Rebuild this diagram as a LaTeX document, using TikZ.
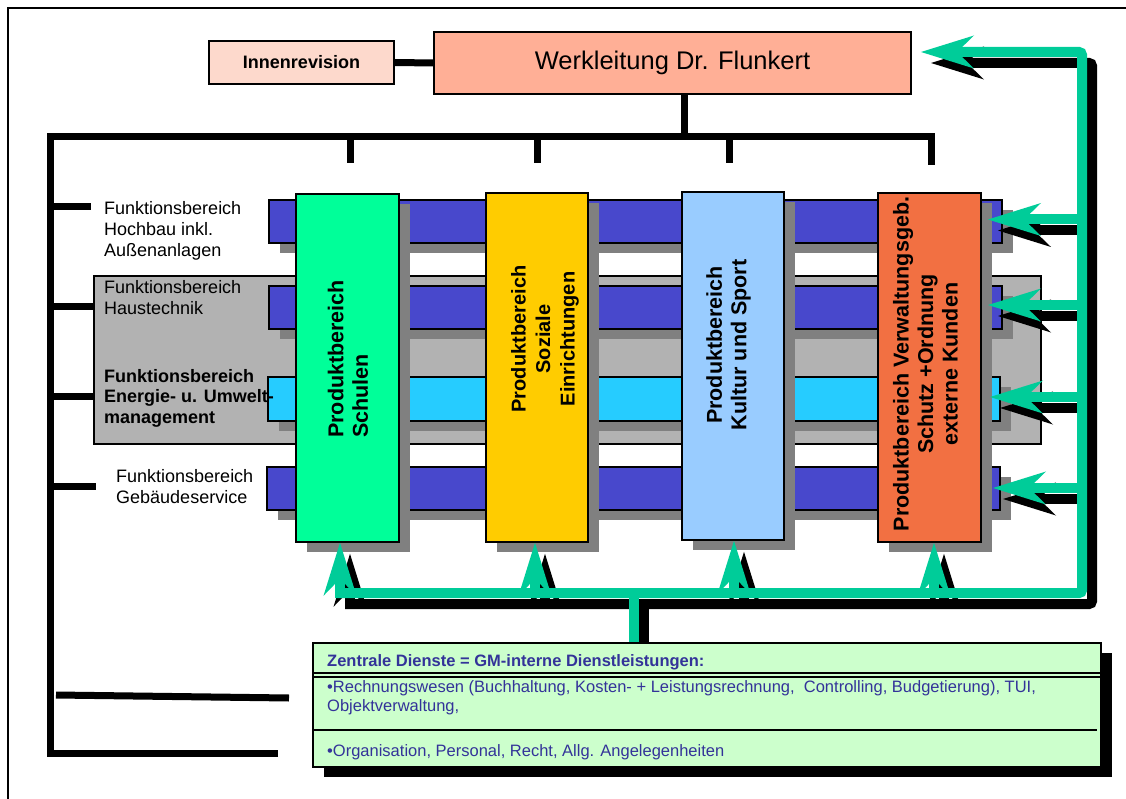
\documentclass[tikz,border=0pt]{standalone}
\usepackage{fontspec}
\setmainfont{Liberation Sans}
\usetikzlibrary{arrows.meta}

\definecolor{wlfill}{RGB}{255,175,150}
\definecolor{irfill}{RGB}{253,217,204}
\definecolor{barblue}{RGB}{72,72,204}
\definecolor{barcyan}{RGB}{38,204,255}
\definecolor{groupgrey}{RGB}{178,178,178}
\definecolor{shadowgrey}{RGB}{128,128,128}
\definecolor{pgreen}{RGB}{0,255,153}
\definecolor{pyellow}{RGB}{255,204,0}
\definecolor{pblue}{RGB}{153,204,255}
\definecolor{porange}{RGB}{242,112,66}
\definecolor{flowteal}{RGB}{0,204,153}
\definecolor{zdfill}{RGB}{204,255,204}
\definecolor{zdtext}{RGB}{51,51,153}

\tikzset{
  orgline/.style={line width=7pt, line join=miter},
  unitbox/.style={draw=black, line width=1.6pt, inner sep=0pt},
  greyshadow/.style={preaction={fill=shadowgrey, transform canvas={xshift=11pt, yshift=-10pt}}},
  blackshadow/.style={preaction={fill=black, transform canvas={xshift=11pt, yshift=-10pt}}},
  fbar/.style={unitbox, greyshadow, fill=barblue, minimum height=43pt},
  pbox/.style={unitbox, greyshadow, minimum width=103pt, minimum height=348pt},
  ptext/.style={rotate=90, inner sep=0pt, align=center, font=\fontsize{21.5}{24.5}\selectfont\bfseries},
  flabel/.style={anchor=north west, inner sep=0pt, align=left, font=\fontsize{18}{21}\selectfont},
  zdline/.style={anchor=base west, inner sep=0pt, text=zdtext, font=\fontsize{16.5}{19}\selectfont},
  flowbase/.style={line width=10pt, line cap=rect, rounded corners=3pt,
    >={Stealth[length=53pt, width=33pt, inset=17pt, line width=0pt]}},
  flow/.style={flowbase, draw=flowteal},
  flowshadow/.style={flowbase, draw=black, transform canvas={xshift=10pt, yshift=-11pt}},
}

% the service flow network, drawn once as shadow and once in teal
\newcommand\flownet[1]{%
  \draw[#1, ->] (jS) -- (jE) -- (jNE) -- (tW);
  \draw[#1, ->] (jS) -- (jS |- schulen.south);
  \draw[#1, ->] (jSo) -- (jSo |- soziale.south);
  \draw[#1, ->] (jK) -- (jK |- kultur.south);
  \draw[#1, ->] (jV) -- (jV |- verw.south);
  \draw[#1] (jZ) -- (jZtop);
  \draw[#1, ->] (tR1 -| jE) -- (tR1);
  \draw[#1, ->] (tR2 -| jE) -- (tR2);
  \draw[#1, ->] (tR3 -| jE) -- (tR3);
  \draw[#1, ->] (tR4 -| jE) -- (tR4);
}

\begin{document}
\begin{tikzpicture}[x=1pt, y=-1pt]
\useasboundingbox (0,0) rectangle (1126,799);

% page frame
\draw[line width=2pt] (8,799) -- (8,8) -- (1126,8);

% management
\node[unitbox, fill=irfill, minimum width=185pt, minimum height=43pt,
      font=\fontsize{18}{21}\selectfont\bfseries] (inn) at (301.5,62.5) {Innenrevision};
\node[unitbox, fill=wlfill, minimum width=477pt, minimum height=62pt,
      font=\fontsize{25.5}{30}\selectfont] (wl) at (672.5,63) {Werkleitung Dr. Flunkert};

% grouping of Haustechnik and Energie
\node[unitbox, line width=2.4pt, fill=groupgrey, minimum width=947pt, minimum height=168pt] (grp) at (567.5,360) {};

% functional areas (horizontal bars)
\node[fbar, minimum width=733pt] (bHoch) at (635.5,221.5) {};
\node[fbar, minimum width=733pt] (bHaus) at (635.5,307.5) {};
\node[fbar, fill=barcyan, minimum width=732pt, minimum height=44pt] (bEnergie) at (634,399) {};
\node[fbar, minimum width=733pt] (bGeb) at (633.5,488.5) {};

% product areas (vertical boxes)
\node[pbox, fill=pgreen] (schulen) at (347.5,368) {};
\node[pbox, fill=pyellow, minimum width=102pt, minimum height=349pt] (soziale) at (537,367.5) {};
\node[pbox, fill=pblue, minimum width=102pt] (kultur) at (733,366) {};
\node[pbox, fill=porange, minimum height=349pt] (verw) at (929.5,367.5) {};

\node[ptext, anchor=west, align=left] (tSchulen) at (348,438) {Produktbereich\\Schulen};
\node[ptext, font=\fontsize{20}{24.5}\selectfont\bfseries] (tSoziale) at (545,339) {Produktbereich\\Soziale\\Einrichtungen};
\node[ptext] (tKultur) at (728.5,345) {Produktbereich\\Kultur und Sport};
\node[ptext] (tVerw) at (925.5,364) {Produktbereich Verwaltungsgeb.\\Schutz +Ordnung\\externe Kunden};

% organisation lines
\coordinate (wlfoot) at (684,137);
\draw[orgline] (inn.east) -- (wl.west);
\draw[orgline] (wlfoot |- wl.south) -- (wlfoot);
\draw[orgline] (278,753) -- (50,753) -- (50,137) -- (931,137) -- (931,165);
\draw[orgline] (350,137) -- (350,163);
\draw[orgline] (537,137) -- (537,163);
\draw[orgline] (729,137) -- (729,163);
\draw[orgline] (50,207) -- (91,207);
\draw[orgline] (50,307) -- (grp.west |- 0,307);
\draw[orgline] (50,396) -- (grp.west |- 0,396);
\draw[orgline] (50,486) -- (96,486);
\draw[orgline] (56,695) -- (289,698);

% functional area labels
\node[flabel] (lHoch) at (104,201) {Funktionsbereich\\Hochbau inkl.\\Außenanlagen};
\node[flabel] (lHaus) at (104,280) {Funktionsbereich\\Haustechnik};
\node[flabel, font=\fontsize{18}{20.5}\selectfont\bfseries] (lEnergie) at (104,369) {Funktionsbereich\\Energie- u. Umwelt-\\management};
\node[flabel] (lGeb) at (116,469) {Funktionsbereich\\Gebäudeservice};

% flow junctions and tips
\coordinate (jS) at (340,593);
\coordinate (jSo) at (535,593);
\coordinate (jK) at (734,593);
\coordinate (jV) at (934,593);
\coordinate (jE) at (1082,593);
\coordinate (jNE) at (1082,52);
\coordinate (tW) at (921,52);
\coordinate (jZ) at (634,593);
\coordinate (jZtop) at (634,643);
\coordinate (tR1) at (988,219.5);
\coordinate (tR2) at (988,305);
\coordinate (tR3) at (990,397);
\coordinate (tR4) at (993,488);

\flownet{flowshadow}
\flownet{flow}

% central services
\node[unitbox, blackshadow, fill=zdfill, minimum width=788pt, minimum height=124pt] (zd) at (707,705) {};
\draw[line width=1.2pt] (zd.west |- 0,673) -- (zd.east |- 0,673);
\draw[line width=1.2pt] (zd.west |- 0,677) -- (zd.east |- 0,677);
\draw[line width=1.5pt] (zd.west |- 0,730) -- (1097,730);
\node[zdline, font=\fontsize{16.5}{19}\selectfont\bfseries] (zdHead) at (327,666) {Zentrale Dienste = GM-interne Dienstleistungen:};
\node[zdline] (zdL1) at (327,692) {•Rechnungswesen (Buchhaltung, Kosten- + Leistungsrechnung,\ \ Controlling, Budgetierung), TUI,};
\node[zdline] (zdL2) at (327,711) {Objektverwaltung,};
\node[zdline] (zdL3) at (327,756) {•Organisation, Personal, Recht, Allg. Angelegenheiten};

\end{tikzpicture}
\end{document}
